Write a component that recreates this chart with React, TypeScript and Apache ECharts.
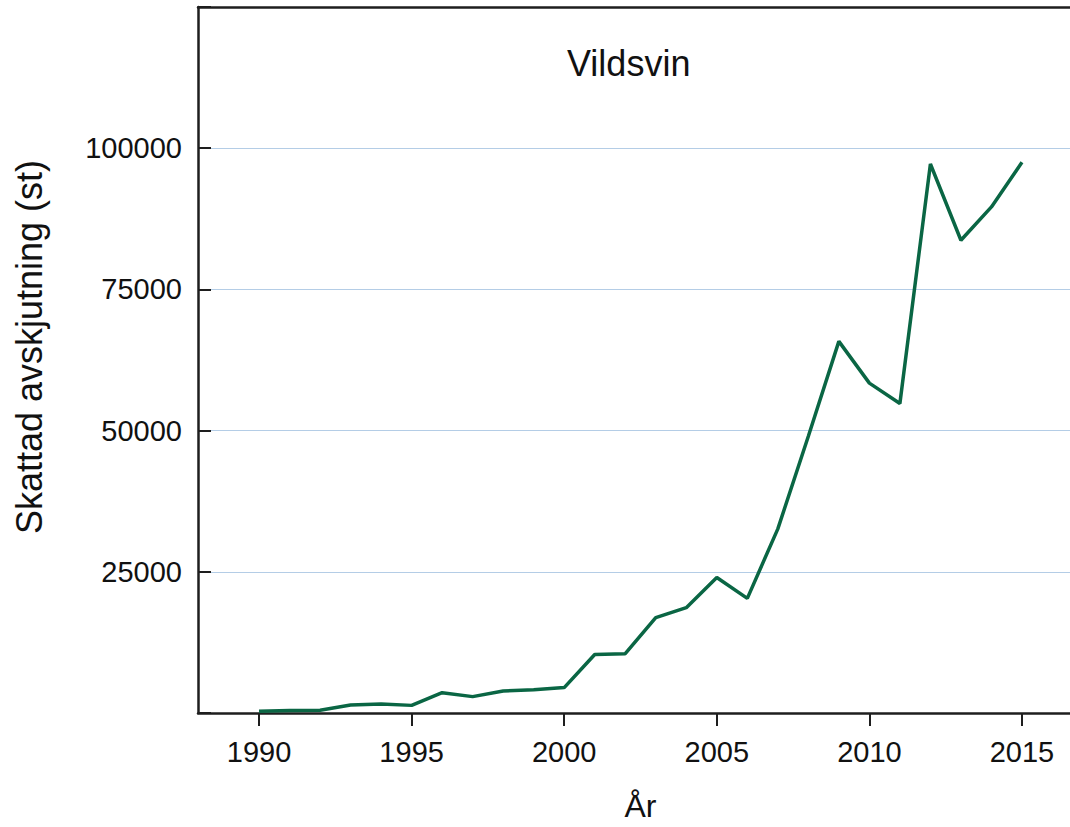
import React, { useEffect, useRef } from "react";
import * as echarts from "echarts";

const years = [1990, 1991, 1992, 1993, 1994, 1995, 1996, 1997, 1998, 1999, 2000, 2001, 2002, 2003, 2004, 2005, 2006, 2007, 2008, 2009, 2010, 2011, 2012, 2013, 2014, 2015];
const harvest = [300, 450, 500, 1400, 1600, 1350, 3600, 2900, 3900, 4100, 4500, 10350, 10500, 16900, 18650, 24000, 20300, 32600, 49000, 65800, 58400, 54800, 97200, 83700, 89600, 97500];
const xTicks = [1990, 1995, 2000, 2005, 2010, 2015];
const titleText = "Vildsvin";
const yName = "Skattad avskjutning (st)";
const xName = "År";

export default function App() {
  const ref = useRef<HTMLDivElement>(null);
  useEffect(() => {
    if (!ref.current) return;
    const chart = echarts.init(ref.current, undefined, { renderer: "svg" });
    const font = "Liberation Sans, Arial, sans-serif";
    const axisColor = "#1e1e1e";
    chart.setOption({
      animation: false,
      backgroundColor: "#ffffff",
      textStyle: { fontFamily: font },
      grid: { left: 198, top: 7, bottom: 108, right: 7, containLabel: false },
      graphic: [
        {
          type: "text",
          left: 630 - 63,
          top: 45,
          style: { text: titleText, font: `36px ${font}`, fill: "#111111" },
        },
        {
          type: "text",
          x: 29,
          y: 347,
          rotation: Math.PI / 2,
          style: { text: yName, font: `36px ${font}`, fill: "#111111", align: "center", verticalAlign: "middle" },
        },
      ],
      xAxis: [
        {
          type: "value",
          min: 1988,
          max: 2017,
          name: xName,
          nameLocation: "middle",
          nameGap: 77,
          nameTextStyle: { fontSize: 32, color: "#111111", fontFamily: font },
          axisLine: { show: true, onZero: false, lineStyle: { color: axisColor, width: 2.5 } },
          axisTick: { show: true, customValues: xTicks, length: 13, inside: false, lineStyle: { color: axisColor, width: 2 } },
          axisLabel: { customValues: xTicks, fontSize: 29, color: "#111111", margin: 24, fontFamily: font, formatter: (v: number) => String(v) },
          splitLine: { show: false },
        },
        {
          type: "value",
          position: "top",
          min: 1988,
          max: 2017,
          axisLine: { show: true, onZero: false, lineStyle: { color: axisColor, width: 2.5 } },
          axisTick: { show: false },
          axisLabel: { show: false },
          splitLine: { show: false },
        },
      ],
      yAxis: [
        {
          type: "value",
          min: 0,
          max: 125000,
          interval: 25000,
          axisLine: { show: true, onZero: false, lineStyle: { color: axisColor, width: 2.5 } },
          axisTick: { show: true, inside: true, length: 13, lineStyle: { color: axisColor, width: 2 } },
          axisLabel: {
            fontSize: 29,
            color: "#111111",
            margin: 16,
            fontFamily: font,
            formatter: (v: number) => (v === 0 || v === 125000 ? "" : String(v)),
          },
          splitLine: { show: true, lineStyle: { color: "#b4cde6", width: 1 } },
        },
        {
          type: "value",
          position: "right",
          min: 0,
          max: 125000,
          interval: 25000,
          axisLine: { show: true, onZero: false, lineStyle: { color: axisColor, width: 2.5 } },
          axisTick: { show: true, inside: true, length: 13, lineStyle: { color: axisColor, width: 2 } },
          axisLabel: { show: false },
          splitLine: { show: false },
        },
      ],
      series: [
        {
          type: "line",
          data: years.map((y, i) => [y, harvest[i]]),
          showSymbol: false,
          symbol: "none",
          lineStyle: { color: "#0a6644", width: 3.5 },
          xAxisIndex: 0,
          yAxisIndex: 0,
        },
      ],
    });
    return () => chart.dispose();
  }, []);
  return (
    <div style={{ position: "absolute", left: 0, top: 0, width: 1070, height: 827, overflow: "hidden", background: "#fff" }}>
      <div ref={ref} style={{ width: 1090, height: 827 }} />
    </div>
  );
}
